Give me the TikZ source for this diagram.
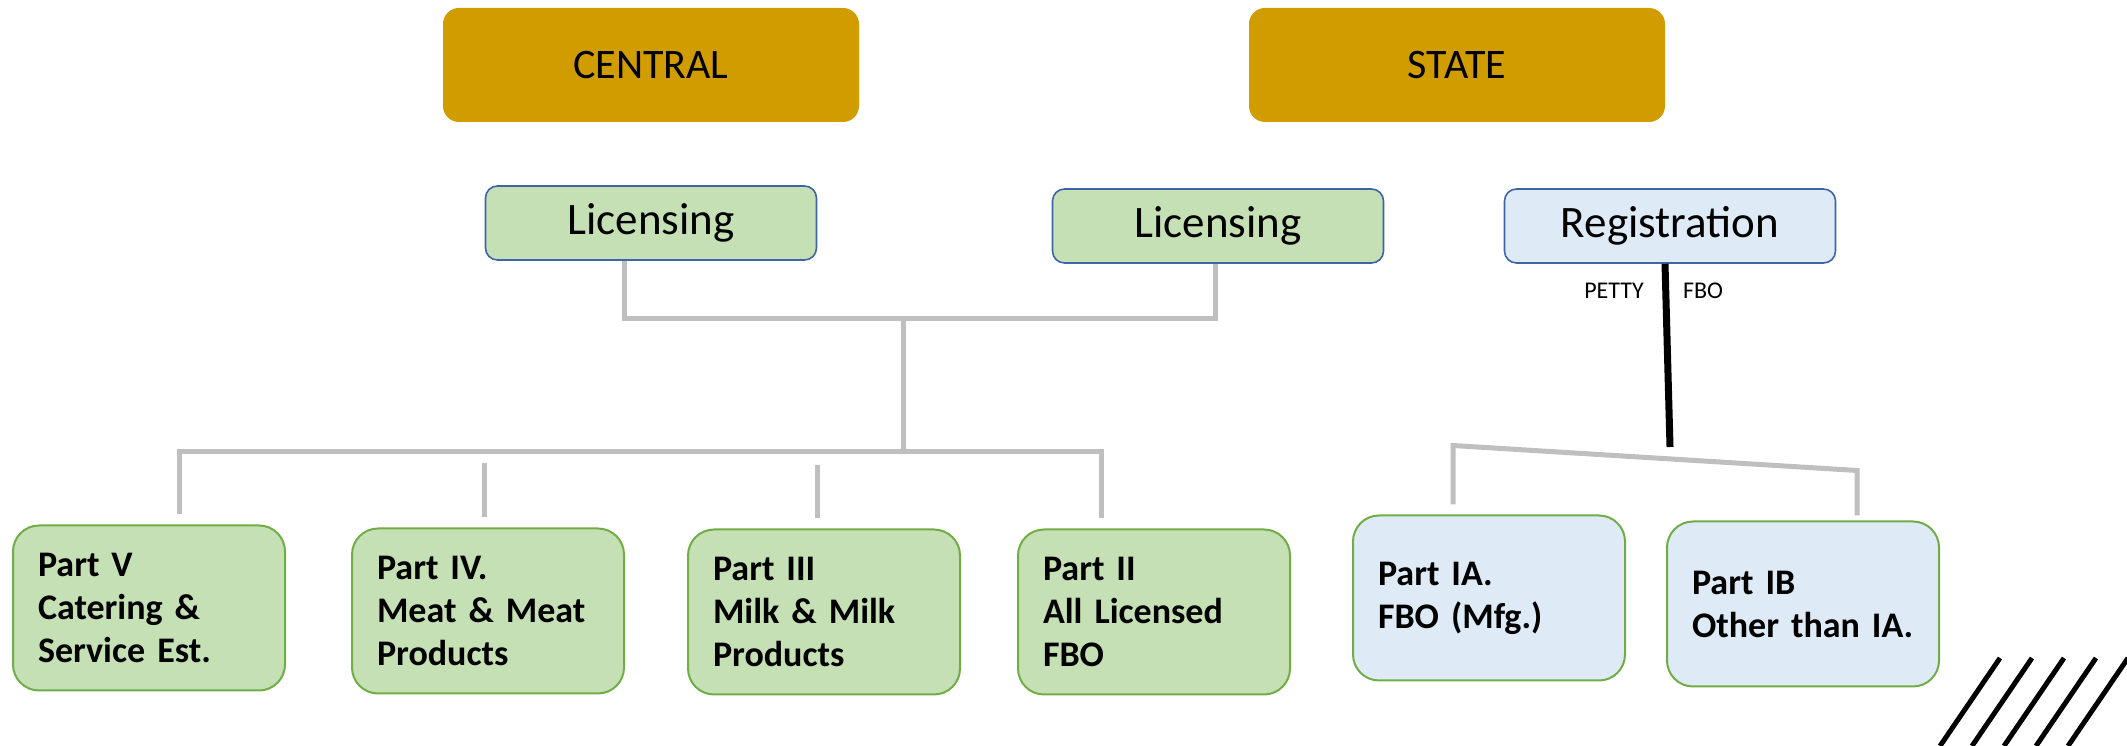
\documentclass[tikz,border=0pt]{standalone}
\usepackage{fontspec}
\setmainfont{Carlito}
\definecolor{gold}{HTML}{D09C00}
\definecolor{lgreen}{HTML}{C5E0B4}
\definecolor{dgreen}{HTML}{70AD47}
\definecolor{lblue}{HTML}{DEEBF7}
\definecolor{linkblue}{HTML}{3F64A8}
\definecolor{treegray}{HTML}{BFBFBF}

\begin{document}
\begin{tikzpicture}[x=1pt,y=1pt,
  levelbox/.style={fill=gold,rounded corners=16pt,minimum width=416pt,minimum height=114pt,font=\fontsize{42}{50}\selectfont},
  licbox/.style={draw=linkblue,line width=1.6pt,rounded corners=12pt,minimum width=331pt,minimum height=74pt,font=\fontsize{45}{54}\selectfont},
  partbox/.style={draw=dgreen,line width=2pt,rounded corners=26pt,minimum height=165pt,text width=222pt,inner xsep=25pt,align=left,font=\fontsize{36}{43}\selectfont\bfseries},
  treeline/.style={treegray,line width=5pt},
  smalltext/.style={font=\fontsize{24}{29}\selectfont}]
\useasboundingbox (0,0) rectangle (2127,746);
% top level
\node[levelbox] (central) at (651,681) {CENTRAL};
\node[levelbox] (state) at (1457,681) {STATE};
\node[licbox,fill=lgreen] (licC) at (651,523) {Licensing};
\node[licbox,fill=lgreen] (licS) at (1218,520) {Licensing};
\node[licbox,fill=lblue] (reg) at (1670,520) {Registration};
% parts
\node[partbox,fill=lgreen] (p5) at (149,138) {Part V\\Catering \&\\Service Est.};
\node[partbox,fill=lgreen] (p4) at (488,135) {Part IV.\\Meat \& Meat\\Products};
\node[partbox,fill=lgreen] (p3) at (824,134) {Part III\\Milk \& Milk\\Products};
\node[partbox,fill=lgreen] (p2) at (1154,134) {Part II\\All Licensed\\FBO};
\node[partbox,fill=lblue] (p1a) at (1489,148) {Part IA.\\FBO (Mfg.)};
\node[partbox,fill=lblue] (p1b) at (1803,142) {Part IB\\Other than IA.};
% licensing tree
\coordinate (upj) at (903,427);
\coordinate (lowj) at (903,294);
\draw[treeline] ([xshift=-27pt]licC.south) |- (upj) -| ([xshift=-3pt]licS.south);
\draw[treeline] (upj) -- (lowj);
\draw[treeline] ([xshift=30pt,yshift=10pt]p5.north) |- (lowj) -| ([xshift=-53pt,yshift=10pt]p2.north);
\draw[treeline] ([xshift=-4pt,yshift=10pt]p4.north) -- ++(0,54);
\draw[treeline] ([xshift=-7pt,yshift=10pt]p3.north) -- ++(0,53);
% registration
\coordinate (regj) at (1670,299);
\draw[line width=7pt] ([xshift=-5pt]reg.south) -- (regj);
\node[smalltext] (petty) at (1614,455) {PETTY};
\node[smalltext] (fbo) at (1703,455) {FBO};
\draw[treeline] ([xshift=-36pt,yshift=10pt]p1a.north) -- ++(0,59) -- ([xshift=54pt,yshift=50pt]p1b.north) -- ([xshift=54pt,yshift=5pt]p1b.north);
% hatch
\foreach \k in {0,...,4}
  \draw[line width=5pt] (1940+32*\k,0) -- (2000+32*\k,88);
\end{tikzpicture}
\end{document}
